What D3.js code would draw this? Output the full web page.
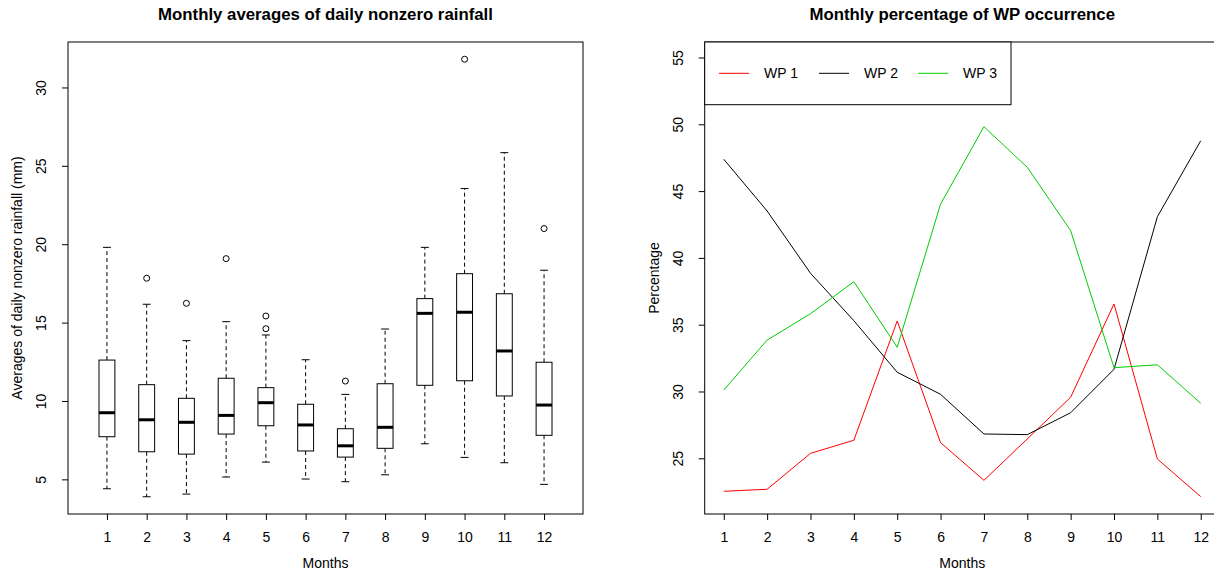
<!DOCTYPE html>
<html>
<head>
<meta charset="utf-8">
<script src="https://cdn.jsdelivr.net/npm/d3@7"></script>
<style>
  body { margin: 0; background: #fff; }
  svg text { font-family: "Liberation Sans", Arial, sans-serif; fill: #000; }
</style>
</head>
<body>
<script>
// month labels
var months = [1, 2, 3, 4, 5, 6, 7, 8, 9, 10, 11, 12];

// boxplot stats per month: lower whisker, Q1, median, Q3, upper whisker
var whiskLow  = [4.40, 3.89, 4.06, 5.15, 6.10, 5.02, 4.85, 5.29, 7.27, 6.40, 6.06, 4.68];
var q1        = [7.72, 6.76, 6.61, 7.89, 8.42, 6.81, 6.42, 6.98, 11.00, 11.29, 10.32, 7.81];
var medians   = [9.25, 8.80, 8.64, 9.08, 9.89, 8.47, 7.14, 8.32, 15.59, 15.66, 13.19, 9.74];
var q3        = [12.61, 11.04, 10.17, 11.45, 10.85, 9.79, 8.23, 11.10, 16.53, 18.12, 16.84, 12.47];
var whiskHigh = [19.80, 16.17, 13.85, 15.06, 14.21, 12.63, 10.42, 14.59, 19.80, 23.55, 25.84, 18.34];
var outliers  = [[], [17.83], [16.23], [19.08], [15.42, 14.61], [], [11.27], [], [], [31.8], [], [21.0]];

// percentage of weather pattern occurrence per month
var wp1 = [22.53, 22.68, 25.37, 26.35, 35.28, 26.17, 23.35, 26.45, 29.57, 36.55, 24.95, 22.13];
var wp2 = [47.38, 43.51, 38.85, 35.30, 31.44, 29.79, 26.82, 26.77, 28.41, 31.66, 43.08, 48.77];
var wp3 = [30.11, 33.85, 35.82, 38.22, 33.31, 44.03, 49.82, 46.78, 42.04, 31.78, 32.00, 29.12];
var seriesNames = ['WP 1', 'WP 2', 'WP 3'];
var seriesColors = ['#ff0000', '#000000', '#00cd00'];

var leftTicks = [5, 10, 15, 20, 25, 30];
var rightTicks = [25, 30, 35, 40, 45, 50, 55];

var fs = '14px';
var titleFs = '16.8px';

var svg = d3.select('body').append('svg')
  .attr('width', 1214)
  .attr('height', 573);

var tickLen = 6;

// ---------- left panel: boxplots ----------
var L = { left: 68, right: 583, top: 42, bottom: 514 };
var xL = d3.scaleLinear().domain([0.02, 12.98]).range([L.left, L.right]);
var yL = d3.scaleLinear().domain([2.79, 32.9]).range([L.bottom, L.top]);

var left = svg.append('g');

left.append('rect')
  .attr('x', L.left).attr('y', L.top)
  .attr('width', L.right - L.left).attr('height', L.bottom - L.top)
  .attr('fill', 'none').attr('stroke', '#000').attr('stroke-width', 1);

var boxW = xL(1.4) - xL(1);
var capW = boxW / 2;

var boxes = left.selectAll('g.box')
  .data(months)
  .enter()
  .append('g')
  .classed('box', true);

boxes.append('line')
  .attr('x1', function(d){ return xL(d); })
  .attr('x2', function(d){ return xL(d); })
  .attr('y1', function(d, i){ return yL(q3[i]); })
  .attr('y2', function(d, i){ return yL(whiskHigh[i]); })
  .attr('stroke', '#000').attr('stroke-dasharray', '4,3');
boxes.append('line')
  .attr('x1', function(d){ return xL(d); })
  .attr('x2', function(d){ return xL(d); })
  .attr('y1', function(d, i){ return yL(q1[i]); })
  .attr('y2', function(d, i){ return yL(whiskLow[i]); })
  .attr('stroke', '#000').attr('stroke-dasharray', '4,3');
boxes.append('line')
  .attr('x1', function(d){ return xL(d) - capW / 2; })
  .attr('x2', function(d){ return xL(d) + capW / 2; })
  .attr('y1', function(d, i){ return yL(whiskHigh[i]); })
  .attr('y2', function(d, i){ return yL(whiskHigh[i]); })
  .attr('stroke', '#000');
boxes.append('line')
  .attr('x1', function(d){ return xL(d) - capW / 2; })
  .attr('x2', function(d){ return xL(d) + capW / 2; })
  .attr('y1', function(d, i){ return yL(whiskLow[i]); })
  .attr('y2', function(d, i){ return yL(whiskLow[i]); })
  .attr('stroke', '#000');
boxes.append('rect')
  .attr('x', function(d){ return xL(d) - boxW / 2; })
  .attr('y', function(d, i){ return yL(q3[i]); })
  .attr('width', boxW)
  .attr('height', function(d, i){ return yL(q1[i]) - yL(q3[i]); })
  .attr('fill', '#fff').attr('stroke', '#000');
boxes.append('line')
  .attr('x1', function(d){ return xL(d) - boxW / 2; })
  .attr('x2', function(d){ return xL(d) + boxW / 2; })
  .attr('y1', function(d, i){ return yL(medians[i]); })
  .attr('y2', function(d, i){ return yL(medians[i]); })
  .attr('stroke', '#000').attr('stroke-width', 3);
boxes.each(function(d, i){
  d3.select(this).selectAll('circle')
    .data(outliers[i])
    .enter()
    .append('circle')
    .attr('cx', xL(d))
    .attr('cy', function(v){ return yL(v); })
    .attr('r', 3)
    .attr('fill', 'none').attr('stroke', '#000');
});

var axBL = left.append('g')
  .attr('transform', 'translate(0,' + L.bottom + ')')
  .call(d3.axisBottom(xL).tickValues(months).tickSize(tickLen).tickPadding(10).tickSizeOuter(0));
var axLL = left.append('g')
  .attr('transform', 'translate(' + L.left + ',0)')
  .call(d3.axisLeft(yL).tickValues(leftTicks).tickSize(tickLen).tickSizeOuter(0));

left.append('text')
  .attr('x', (L.left + L.right) / 2).attr('y', 20)
  .attr('text-anchor', 'middle')
  .style('font-weight', 'bold').style('font-size', titleFs)
  .text('Monthly averages of daily nonzero rainfall');
left.append('text')
  .attr('x', (L.left + L.right) / 2).attr('y', 568)
  .attr('text-anchor', 'middle').style('font-size', fs)
  .text('Months');
left.append('text')
  .attr('transform', 'translate(22,' + (L.top + L.bottom) / 2 + ') rotate(-90)')
  .attr('text-anchor', 'middle').style('font-size', fs)
  .text('Averages of daily nonzero rainfall (mm)');

// ---------- right panel: lines ----------
var R = { left: 704.7, right: 1219.8, top: 42, bottom: 514 };
var xR = d3.scaleLinear().domain([0.56, 12.44]).range([R.left, R.right]);
var yR = d3.scaleLinear().domain([20.83, 56.16]).range([R.bottom, R.top]);

var right = svg.append('g');

right.append('rect')
  .attr('x', R.left).attr('y', R.top)
  .attr('width', R.right - R.left).attr('height', R.bottom - R.top)
  .attr('fill', 'none').attr('stroke', '#000').attr('stroke-width', 1);

var line = d3.line()
  .x(function(d, i){ return xR(months[i]); })
  .y(function(d){ return yR(d); });

right.selectAll('path.series')
  .data([wp1, wp2, wp3])
  .enter()
  .append('path')
  .classed('series', true)
  .attr('d', line)
  .attr('fill', 'none')
  .attr('stroke', function(d, i){ return seriesColors[i]; })
  .attr('stroke-width', 1);

var axBR = right.append('g')
  .attr('transform', 'translate(0,' + R.bottom + ')')
  .call(d3.axisBottom(xR).tickValues(months).tickSize(tickLen).tickPadding(10).tickSizeOuter(0));
var axLR = right.append('g')
  .attr('transform', 'translate(' + R.left + ',0)')
  .call(d3.axisLeft(yR).tickValues(rightTicks).tickSize(tickLen).tickSizeOuter(0));

// legend
var legend = right.append('g');
legend.append('rect')
  .attr('x', R.left).attr('y', R.top)
  .attr('width', 1011 - R.left).attr('height', 104.7 - R.top)
  .attr('fill', '#fff').attr('stroke', '#000');
var legX = [719, 819, 918];
legend.selectAll('line.key')
  .data(seriesNames)
  .enter()
  .append('line')
  .classed('key', true)
  .attr('x1', function(d, i){ return legX[i]; })
  .attr('x2', function(d, i){ return legX[i] + 30; })
  .attr('y1', 73.3).attr('y2', 73.3)
  .attr('stroke', function(d, i){ return seriesColors[i]; });
legend.selectAll('text.key')
  .data(seriesNames)
  .enter()
  .append('text')
  .classed('key', true)
  .attr('x', function(d, i){ return legX[i] + 45; })
  .attr('y', 78.3)
  .style('font-size', fs)
  .text(function(d){ return d; });

right.append('text')
  .attr('x', (R.left + R.right) / 2).attr('y', 20)
  .attr('text-anchor', 'middle')
  .style('font-weight', 'bold').style('font-size', titleFs)
  .text('Monthly percentage of WP occurrence');
right.append('text')
  .attr('x', (R.left + R.right) / 2).attr('y', 568)
  .attr('text-anchor', 'middle').style('font-size', fs)
  .text('Months');
right.append('text')
  .attr('transform', 'translate(659,' + (R.top + R.bottom) / 2 + ') rotate(-90)')
  .attr('text-anchor', 'middle').style('font-size', fs)
  .text('Percentage');

// R-style axes: rotated y labels, no domain line beyond ticks
[axBL, axLL, axBR, axLR].forEach(function(ax){
  ax.selectAll('text').style('font-size', fs).attr('fill', '#000');
  ax.selectAll('line').attr('stroke', '#000');
  ax.select('.domain').remove();
});
[axBL, axBR].forEach(function(ax){
  ax.selectAll('.tick text').attr('dy', null).attr('y', 28);
});
[axLL, axLR].forEach(function(ax){
  ax.selectAll('.tick text')
    .attr('x', null).attr('dy', null)
    .attr('text-anchor', 'middle')
    .attr('transform', 'translate(-22,0) rotate(-90)');
});
</script>
</body>
</html>
